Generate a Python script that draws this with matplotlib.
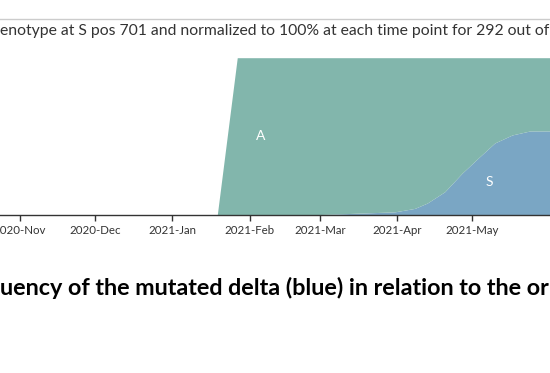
import matplotlib
matplotlib.use("Agg")
import matplotlib.pyplot as plt
import matplotlib.dates as mdates
import numpy as np
import datetime as dt

# --- data ---
dates = ["2021-01-19", "2021-01-27", "2021-02-10", "2021-02-24", "2021-03-05",
         "2021-03-31", "2021-04-08", "2021-04-13", "2021-04-20", "2021-04-27",
         "2021-05-04", "2021-05-10", "2021-05-17", "2021-05-24", "2021-06-01"]
total = [0, 1, 1, 1, 1, 1, 1, 1, 1, 1, 1, 1, 1, 1, 1]
s_frac = [0, 0, 0, 0, 0.005, 0.02, 0.042, 0.076, 0.148, 0.267, 0.371, 0.458,
          0.509, 0.534, 0.534]
tick_months = ["2020-11-01", "2020-12-01", "2021-01-01", "2021-02-01",
               "2021-03-01", "2021-04-01", "2021-05-01"]
title_text = "enotype at S pos 701 and normalized to 100% at each time point for 292 out of"
caption_text = "uency of the mutated delta (blue) in relation to the or"

W, H = 550, 373
fig = plt.figure(figsize=(W / 100, H / 100), dpi=100)
fig.patch.set_facecolor("white")

ax_bottom = 1 - 215 / H
ax_top = 1 - 57.7 / H
ax = fig.add_axes([0, ax_bottom, 1, ax_top - ax_bottom])

x = mdates.datestr2num(dates)
tot = np.array(total, float)
s = np.array(s_frac) * tot

teal = "#82B6AC"
blue = "#7AA6C4"
ax.fill_between(x, 0, s, color=blue, linewidth=0)
ax.fill_between(x, s, tot, color=teal, linewidth=0)

jan1 = mdates.date2num(dt.datetime(2021, 1, 1))
ax.set_xlim(jan1 - 68.9, jan1 + 151.1)
ax.set_ylim(0, 1)

ax.text(mdates.datestr2num("2021-02-01") + 4.5, 0.5, "A", color="white",
        fontsize=10, family="Lato", ha="center", va="center")
ax.text(mdates.datestr2num("2021-05-08"), 0.21, "S", color="white",
        fontsize=10, family="Lato", ha="center", va="center")

for sp in ["top", "left", "right"]:
    ax.spines[sp].set_visible(False)
ax.spines["bottom"].set_color("#333333")
ax.spines["bottom"].set_linewidth(1)
ax.set_yticks([])
ax.set_xticks(mdates.datestr2num(tick_months))
ax.xaxis.set_major_formatter(mdates.DateFormatter("%Y-%b"))
ax.tick_params(axis="x", length=4, width=1, color="#333333", pad=3,
               labelsize=8.3, labelcolor="#333333")
for lab in ax.get_xticklabels():
    lab.set_family("Lato")

# top divider line
fig.add_artist(plt.Line2D([0, 1], [1 - 19.3 / H] * 2, color="#cccccc",
                          linewidth=1, transform=fig.transFigure))

fig.text(0, 1 - 30.5 / H, title_text, family="Lato", fontsize=11.3,
         color="#333333", ha="left", va="center")
fig.text(0, 1 - 288 / H, caption_text, family="Lato", fontsize=16.8,
         fontweight="bold", color="black", ha="left", va="center")

fig.savefig("out.png", dpi=100)
